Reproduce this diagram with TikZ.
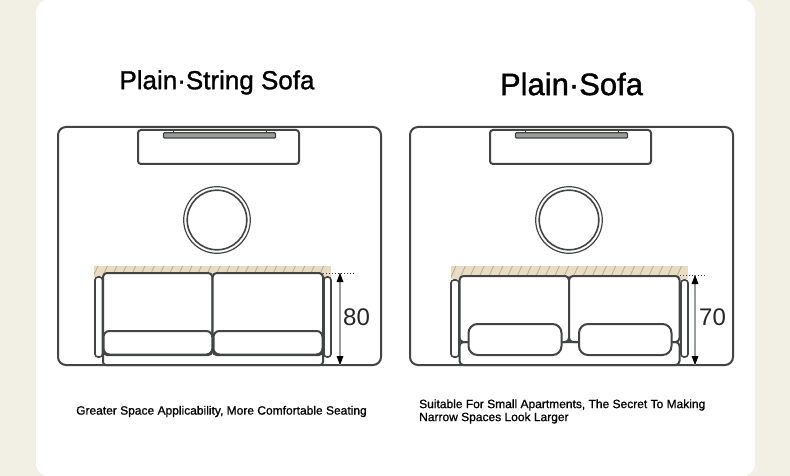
\documentclass[tikz,border=0pt]{standalone}
\usepackage{fontspec}
\setmainfont{Liberation Sans}
\newfontfamily\medfont[FakeBold=1.2]{Liberation Sans}
\newfontfamily\capfont[FakeBold=0.9]{Liberation Sans}
\definecolor{pagebg}{HTML}{F2EFE4}
\definecolor{ink}{HTML}{434544}
\definecolor{barfill}{HTML}{9A9C9A}
\definecolor{wall}{HTML}{E8DCC5}
\definecolor{hatchc}{HTML}{B8AC92}
\tikzset{
  outline/.style={draw=ink,line width=2pt,fill=white},
  thin outline/.style={draw=ink,line width=1.6pt,fill=white},
  title/.style={inner sep=0pt,text=black,font=\medfont},
  caption/.style={inner sep=0pt,text=black,align=left,font=\capfont\fontsize{12}{13}\selectfont},
  dim/.style={inner sep=0pt,text=black!85,font=\fontsize{24}{24}\selectfont},
  dimline/.style={draw=barfill,line width=1.6pt},
  dimtip/.style={fill=black,draw=none},
  dots/.style={draw=ink,line width=1pt,dash pattern=on 1.2pt off 1.8pt}
}
\begin{document}
\begin{tikzpicture}[x=1pt,y=-1pt]
\useasboundingbox (0,0) rectangle (790,476);
\fill[pagebg] (0,0) rectangle (790,476);
\fill[white,rounded corners=14pt] (36,-1) rectangle (755,477);
\node[title,font=\medfont\fontsize{26}{28}\selectfont] (t1) at (217,82.5) {Plain·String Sofa};
\node[title,font=\medfont\fontsize{31}{33}\selectfont] (t2) at (571.5,84) {Plain·Sofa};
\node[caption,anchor=west] (c1) at (76,411.5) {Greater Space Applicability, More Comfortable Seating};
\node[caption,anchor=west] (c2) at (419,411.5) {Suitable For Small Apartments, The Secret To Making\\Narrow Spaces Look Larger};
% left room
\draw[outline,rounded corners=8pt] (58,127) rectangle (381,365);
\draw[outline,rounded corners=3pt] (138,130) rectangle (299,164);
\draw[ink,line width=1pt] (173,130) -- (173,133) (266,130) -- (266,133);
\draw[draw=ink,fill=barfill,line width=1.2pt,rounded corners=1pt] (163.5,132.8) rectangle (275.5,138);
\draw[draw=ink,line width=1.2pt] (217,220) circle (33.3);
\draw[thin outline] (217,220) circle (29.8);
\begin{scope}
\clip (94,266) rectangle (331,277);
\fill[wall] (94,266) rectangle (331,277);
\foreach \h in {0,1,...,24}{\draw[hatchc,line width=.8pt] (93+\h*9.4,277) -- ++(5,-11);}
\end{scope}
\draw[dots] (323,273) -- (355,273);
\draw[outline,rounded corners=3pt] (103,350) rectangle (323,365);
\draw[thin outline,rounded corners=3pt] (95,277) rectangle (102.5,357);
\draw[thin outline,rounded corners=3pt] (324,277) rectangle (331,357);
\draw[outline,rounded corners=4pt] (103,273) rectangle (212.3,355);
\draw[outline,rounded corners=4pt] (212.7,273) rectangle (323,355);
\draw[outline,rounded corners=6pt] (103.5,331) rectangle (212.3,354.5);
\draw[outline,rounded corners=6pt] (213.5,331) rectangle (322.5,354.5);
\coordinate (a1) at (340,273); \coordinate (b1) at (340,365);
\draw[dimline] (a1) -- (b1);
\fill[dimtip] (a1) -- ++(3.5,9) -- ++(-7,0) -- cycle;
\fill[dimtip] (b1) -- ++(3.5,-9) -- ++(-7,0) -- cycle;
\node[dim] (d1) at (356.5,317) {80};
% right room
\draw[outline,rounded corners=8pt] (410,127) rectangle (733,365);
\draw[outline,rounded corners=3pt] (490,130) rectangle (651,164);
\draw[ink,line width=1pt] (525,130) -- (525,133) (618,130) -- (618,133);
\draw[draw=ink,fill=barfill,line width=1.2pt,rounded corners=1pt] (515.5,132.8) rectangle (627.5,138);
\draw[draw=ink,line width=1.2pt] (569,220) circle (33.3);
\draw[thin outline] (569,220) circle (29.8);
\begin{scope}
\clip (451,266) rectangle (688,279);
\fill[wall] (451,266) rectangle (688,279);
\foreach \h in {0,1,...,24}{\draw[hatchc,line width=.8pt] (450+\h*9.4,279) -- ++(6,-13);}
\end{scope}
\draw[dots] (680,275) -- (707,275);
\draw[thin outline,rounded corners=3pt] (451,280) rectangle (459,357);
\draw[thin outline,rounded corners=3pt] (681,280) rectangle (688,357);
\draw[outline,rounded corners=4pt] (459.5,342) rectangle (679.5,365);
\draw[outline,rounded corners=4pt] (459.5,276) rectangle (569,342);
\draw[outline,rounded corners=4pt] (569,276) rectangle (679.5,342);
\draw[outline,rounded corners=9pt] (468.5,324) rectangle (561.5,355);
\draw[outline,rounded corners=9pt] (579,324) rectangle (671.5,355);
\coordinate (a2) at (695,275); \coordinate (b2) at (695,365);
\draw[dimline] (a2) -- (b2);
\fill[dimtip] (a2) -- ++(3.5,9) -- ++(-7,0) -- cycle;
\fill[dimtip] (b2) -- ++(3.5,-9) -- ++(-7,0) -- cycle;
\node[dim] (d2) at (712.5,317) {70};
\end{tikzpicture}
\end{document}
